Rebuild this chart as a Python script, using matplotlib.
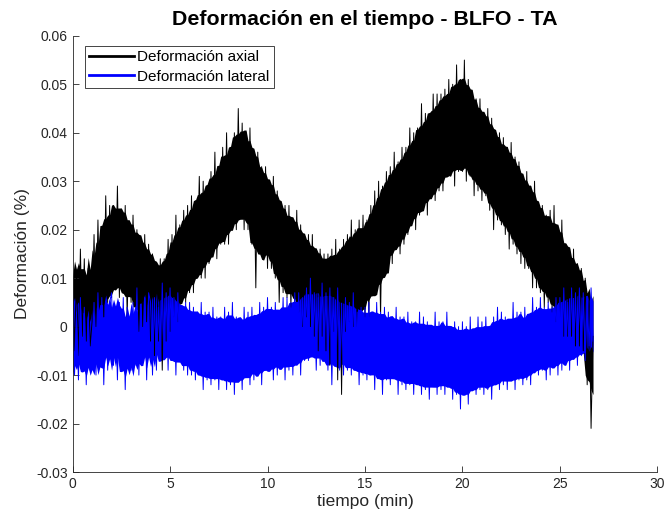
import matplotlib.pyplot as plt
import numpy as np
import pandas as pd

plt.rcParams['font.family'] = ['Liberation Sans', 'DejaVu Sans']

# Muestreo cada 0.1 min; deformaciones en milésimas de %
paso_min = 0.1

def_axial_mil = [
    12, -5, 10, -6, 16, -2, 14, -3, 12, -4,
    1, 19, 0, 22, 5, 20, 2, 27, 5, 25,
    6, 25, 8, 29, 6, 24, 7, 25, 2, 21,
    5, 23, 6, 20, -1, 18, 0, 19, 1, 17,
    -3, 15, -6, 13, -3, 14, -9, 14, -3, 18,
    -1, 19, 2, 23, 1, 21, 6, 24, 5, 25,
    7, 27, 7, 26, 11, 31, 10, 30, 10, 29,
    13, 32, 16, 36, 14, 33, 17, 37, 17, 40,
    17, 37, 20, 40, 20, 45, 23, 42, 20, 40,
    20, 41, 17, 35, 8, 36, 15, 33, 15, 33,
    12, 30, 12, 31, 10, 28, 5, 25, 7, 25,
    6, 25, 4, 22, 5, 24, 3, 21, 0, 18,
    2, 19, 0, 19, -2, 16, -5, 16, -2, 15,
    -5, 15, -8, 16, -1, 18, -11, 16, -14, 18,
    -1, 19, 1, 22, 0, 20, 0, 22, 5, 23,
    2, 22, 2, 25, 8, 28, 9, 30, 2, 29,
    11, 32, 14, 33, 13, 36, 16, 34, 15, 37,
    17, 37, 19, 41, 22, 40, 20, 41, 23, 46,
    24, 44, 23, 44, 27, 48, 26, 48, 28, 48,
    28, 49, 31, 51, 31, 50, 29, 54, 32, 51,
    32, 55, 30, 51, 31, 48, 27, 47, 28, 47,
    26, 44, 27, 45, 24, 43, 20, 40, 22, 40,
    21, 39, 19, 37, 16, 38, 17, 35, 15, 34,
    13, 31, 12, 32, 12, 29, 8, 30, 8, 25,
    7, 25, 4, 23, 5, 24, 3, 25, 1, 19,
    2, 22, -2, 17, -2, 16, -2, 16, -4, 13,
    -4, 12, -5, 10, -12, 6, -21, -2,
]

def_lateral_mil = [
    7, -10, 3, -11, 6, -8, 4, -12, 2, -9,
    -8, 5, -10, 7, -7, 6, -12, 4, -9, 5,
    7, -8, 4, -11, 5, -9, 6, -13, 4, -7,
    -9, 5, -8, 8, -10, 4, -7, 6, -11, 7,
    5, -10, 6, -9, 4, -7, 9, -6, 7, -9,
    8, -7, 6, -10, 7, -7, 4, -9, 5, -10,
    5, -10, 4, -11, 3, -10, 5, -13, 3, -11,
    3, -12, 4, -11, 2, -13, 2, -11, 4, -13,
    3, -12, 5, -14, 2, -11, 1, -13, 4, -10,
    3, -12, 4, -11, 2, -10, 5, -12, 4, -9,
    6, -9, 4, -11, 5, -10, 3, -7, 6, -11,
    6, -9, 5, -10, 7, -7, 7, -10, 6, -7,
    8, -7, 10, -6, 7, -9, 6, -8, 9, -7,
    7, -9, 8, -12, 6, -7, 8, -9, 4, -10,
    6, -9, 5, -10, 7, -9, 3, -12, 4, -10,
    4, -11, 5, -10, 3, -13, 5, -10, 3, -14,
    4, -11, 3, -12, 2, -10, 4, -14, 2, -12,
    2, -13, 3, -12, 1, -14, 1, -12, 3, -14,
    2, -13, 1, -15, 0, -12, 3, -14, 1, -13,
    1, -14, 3, -12, 0, -15, 1, -14, 0, -17,
    1, -14, 0, -16, 2, -13, -1, -14, 2, -13,
    1, -14, 2, -13, 0, -15, 2, -11, 4, -13,
    3, -12, 2, -13, 1, -11, 5, -13, 3, -11,
    3, -12, 4, -11, 2, -12, 6, -9, 4, -10,
    6, -9, 4, -11, 5, -10, 4, -7, 6, -10,
    6, -9, 8, -8, 5, -9, 8, -6, 7, -8,
    8, -6, 7, -7, 6, -4, 8, -3,
]

def_axial = np.array(def_axial_mil) / 1000.0
def_lateral = np.array(def_lateral_mil) / 1000.0
tiempo = np.arange(len(def_axial)) * paso_min


def nucleo(serie, k=0.8):
    # franja densa alrededor de la media móvil de la señal
    s = pd.Series(serie).rolling(8, center=True, min_periods=1)
    media, desv = s.mean().to_numpy(), s.std().fillna(0).to_numpy()
    return media - k * desv, media + k * desv


fig = plt.figure(figsize=(6.66, 5.23), dpi=100)
ax = fig.add_axes([0.109, 0.0975, 0.878, 0.834])

for serie, color, nombre in [(def_axial, 'black', 'Deformación axial'),
                             (def_lateral, 'blue', 'Deformación lateral')]:
    bajo, alto = nucleo(serie)
    ax.fill_between(tiempo, bajo, alto, color=color, linewidth=0)
    ax.plot(tiempo, serie, color=color, linewidth=0.7, label=nombre)

ax.set_xlim(0, 30)
ax.set_ylim(-0.03, 0.06)
ax.set_xticks(np.arange(0, 31, 5))
ax.set_yticks(np.arange(-0.03, 0.061, 0.01))
ax.set_yticklabels(['-0.03', '-0.02', '-0.01', '0', '0.01', '0.02', '0.03', '0.04', '0.05', '0.06'])

gris = '#262626'
ax.spines['top'].set_visible(False)
ax.spines['right'].set_visible(False)
for lado in ('left', 'bottom'):
    ax.spines[lado].set_color(gris)
    ax.spines[lado].set_linewidth(0.6)
ax.tick_params(direction='in', length=4, width=0.6, colors=gris, labelsize=10)

ax.set_title('Deformación en el tiempo - BLFO - TA', fontsize=15.4, fontweight='bold', pad=8)
ax.set_xlabel('tiempo (min)', fontsize=12.5, color=gris, labelpad=2)
ax.set_ylabel('Deformación (%)', fontsize=12.5, color=gris, labelpad=4)

leg = ax.legend(loc='upper left', bbox_to_anchor=(0.021, 0.977), borderaxespad=0,
                fontsize=11, fancybox=False, framealpha=1, edgecolor=gris,
                handlelength=2.9, borderpad=0.3, labelspacing=0.35, handletextpad=0.2)
for linea in leg.get_lines():
    linea.set_linewidth(2)
leg.get_frame().set_linewidth(0.6)

fig.savefig('out.png', dpi=100)
